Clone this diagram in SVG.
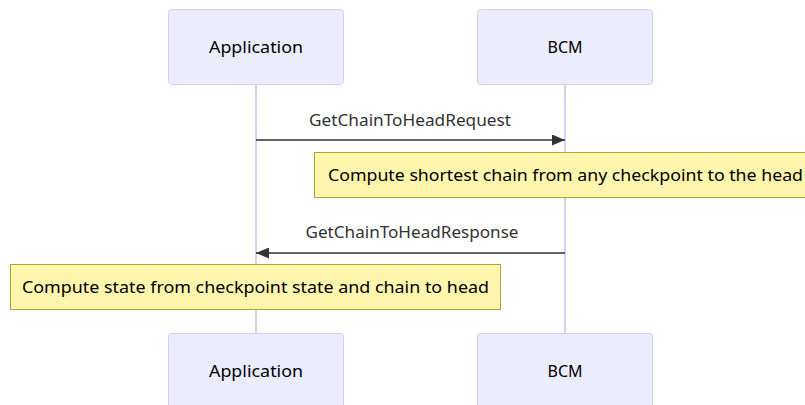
<svg xmlns="http://www.w3.org/2000/svg" width="805" height="405" viewBox="0 0 805 405">
<style>
.actor{fill:#ececff;stroke:#dacef3;stroke-width:1}
.life{stroke:#dacef3;stroke-width:2}
.atext{font-family:"Noto Sans","DejaVu Sans",sans-serif;font-size:16px;fill:#000;text-anchor:middle;dominant-baseline:central}
.msg{stroke:#333;stroke-width:1.5;fill:none}
.mtext{font-family:"Noto Sans","DejaVu Sans",sans-serif;font-size:16px;fill:#333;text-anchor:middle;dominant-baseline:central}
.note{fill:#fff5ad;stroke:#aaaa33;stroke-width:1}
.ntext{font-family:"Noto Sans","DejaVu Sans",sans-serif;font-size:16px;fill:#000;dominant-baseline:central}
</style>
<defs>
<marker id="arrow" viewBox="0 0 13 11" refX="13" refY="5.5" markerWidth="13" markerHeight="11" markerUnits="userSpaceOnUse" orient="auto">
<path d="M0,0 L13,5.5 L0,11 z" fill="#333"/>
</marker>
</defs>
<rect width="805" height="405" fill="#fff"/>
<g id="lifelines">
<line class="life" x1="256" y1="84" x2="256" y2="333"/>
<line class="life" x1="565" y1="84" x2="565" y2="333"/>
</g>
<g id="actor-app-top">
<rect class="actor" x="168.5" y="9.5" width="175" height="75" rx="3"/>
<text class="atext" x="256" y="47" textLength="94" lengthAdjust="spacingAndGlyphs">Application</text>
</g>
<g id="actor-bcm-top">
<rect class="actor" x="477.5" y="9.5" width="175" height="75" rx="3"/>
<text class="atext" x="565" y="47">BCM</text>
</g>
<g id="connectors">
<line class="msg" x1="256" y1="140" x2="565" y2="140" marker-end="url(#arrow)"/>
<text class="mtext" x="410" y="120" textLength="202" lengthAdjust="spacingAndGlyphs">GetChainToHeadRequest</text>
<line class="msg" x1="565" y1="253" x2="256" y2="253" marker-end="url(#arrow)"/>
<text class="mtext" x="412" y="232" textLength="213" lengthAdjust="spacingAndGlyphs">GetChainToHeadResponse</text>
</g>
<g id="note1">
<rect class="note" x="314.5" y="152.5" width="500" height="45"/>
<text class="ntext" x="328" y="175" textLength="475" lengthAdjust="spacingAndGlyphs">Compute shortest chain from any checkpoint to the head</text>
</g>
<g id="note2">
<rect class="note" x="10.5" y="264.5" width="490" height="45"/>
<text class="ntext" x="22" y="287" textLength="467" lengthAdjust="spacingAndGlyphs">Compute state from checkpoint state and chain to head</text>
</g>
<g id="actor-app-bottom">
<rect class="actor" x="168.5" y="333.5" width="175" height="75" rx="3"/>
<text class="atext" x="256" y="371" textLength="94" lengthAdjust="spacingAndGlyphs">Application</text>
</g>
<g id="actor-bcm-bottom">
<rect class="actor" x="477.5" y="333.5" width="175" height="75" rx="3"/>
<text class="atext" x="565" y="371">BCM</text>
</g>
</svg>
